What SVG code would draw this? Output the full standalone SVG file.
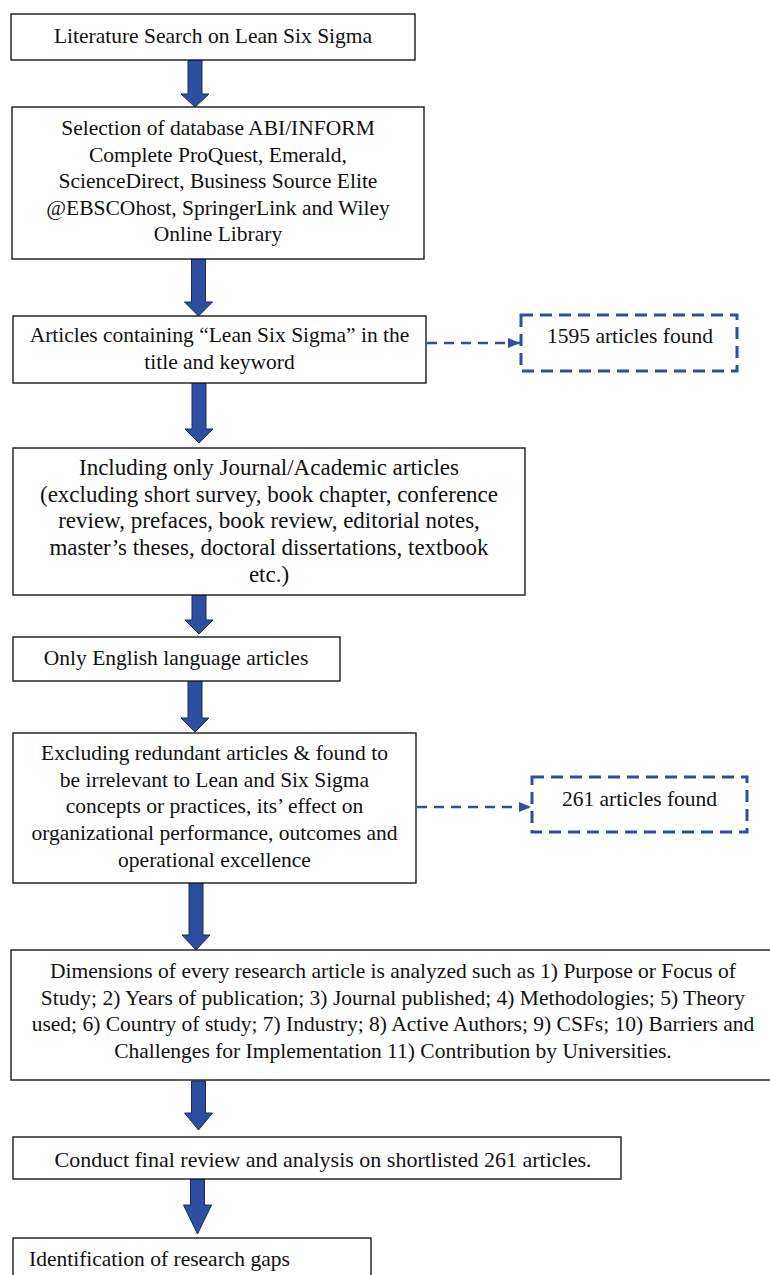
<svg xmlns="http://www.w3.org/2000/svg" width="770" height="1275" viewBox="0 0 770 1275">
<defs>
<style>
.box{fill:#ffffff;stroke:#1a1a1a;stroke-width:1.4}
.dbox{fill:#ffffff;stroke:#2F4FA0;stroke-width:3;stroke-dasharray:12 7}
.t{font-family:"Liberation Serif","Times New Roman",serif;font-size:21.5px;fill:#111111}
.c{text-anchor:middle}
.big{font-size:23px}
.mid{font-size:22px}
.blk{fill:#2E4F9F;stroke:#1B2A58;stroke-width:1}
.dl{fill:none;stroke:#2F4FA0;stroke-width:2.6;stroke-dasharray:10 7}
</style>
<marker id="ah" viewBox="0 0 12 10" refX="12" refY="5" markerWidth="12" markerHeight="10" markerUnits="userSpaceOnUse" orient="auto">
<path d="M0,0 L12,5 L0,10 Z" fill="#2F4FA0"/>
</marker>
</defs>
<rect width="770" height="1275" fill="#ffffff"/>

<g id="connectors">
<path class="blk" d="M188,60 H202 V94 H209 L195,107 L181,94 H188 Z"/>
<path class="blk" d="M191.5,259 H205.5 V302 H212.5 L198.5,316 L184.5,302 H191.5 Z"/>
<path class="blk" d="M192,383 H206 V429 H213 L199,443 L185,429 H192 Z"/>
<path class="blk" d="M192,595 H206 V620 H213 L199,634 L185,620 H192 Z"/>
<path class="blk" d="M188,681 H202 V718 H209 L195,732 L181,718 H188 Z"/>
<path class="blk" d="M189,883 H203 V935 H210 L196,950 L182,935 H189 Z"/>
<path class="blk" d="M191.5,1081 H205.5 V1113 H212.5 L198.5,1130 L184.5,1113 H191.5 Z"/>
<path class="blk" d="M190.5,1179 H204.5 V1205 H211.5 L197.5,1234 L183.5,1205 H190.5 Z"/>
<path class="dl" d="M427,343 H520" marker-end="url(#ah)"/>
<path class="dl" d="M417,807 H531" marker-end="url(#ah)"/>
</g>

<g id="n1">
<rect class="box" x="11" y="14" width="404" height="46"/>
<text class="t c" x="213" y="43">Literature Search on Lean Six Sigma</text>
</g>

<g id="n2">
<rect class="box" x="12" y="107" width="412" height="152"/>
<text class="t c" x="218" y="135">Selection of database ABI/INFORM</text>
<text class="t c" x="218" y="161.5">Complete ProQuest, Emerald,</text>
<text class="t c" x="218" y="188">ScienceDirect, Business Source Elite</text>
<text class="t c" x="218" y="214.5">@EBSCOhost, SpringerLink and Wiley</text>
<text class="t c" x="218" y="241">Online Library</text>
</g>

<g id="n3">
<rect class="box" x="13" y="316" width="413" height="67"/>
<text class="t c" x="219.5" y="342">Articles containing “Lean Six Sigma” in the</text>
<text class="t c" x="219.5" y="369">title and keyword</text>
</g>

<g id="n3b">
<rect class="dbox" x="521" y="315" width="216" height="56"/>
<text class="t c" x="630" y="343">1595 articles found</text>
</g>

<g id="n4">
<rect class="box" x="13" y="448" width="512" height="147"/>
<text class="t c big" x="269" y="475">Including only Journal/Academic articles</text>
<text class="t c big" x="269" y="501.7">(excluding short survey, book chapter, conference</text>
<text class="t c big" x="269" y="528.4">review, prefaces, book review, editorial notes,</text>
<text class="t c big" x="269" y="555.1">master’s theses, doctoral dissertations, textbook</text>
<text class="t c big" x="269" y="581.8">etc.)</text>
</g>

<g id="n5">
<rect class="box" x="13" y="637" width="327" height="44"/>
<text class="t c" x="176" y="665">Only English language articles</text>
</g>

<g id="n6">
<rect class="box" x="13" y="733" width="403" height="150"/>
<text class="t c" x="214.5" y="760">Excluding redundant articles &amp; found to</text>
<text class="t c" x="214.5" y="786.7">be irrelevant to Lean and Six Sigma</text>
<text class="t c" x="214.5" y="813.4">concepts or practices, its’ effect on</text>
<text class="t c" x="214.5" y="840.1">organizational performance, outcomes and</text>
<text class="t c" x="214.5" y="866.8">operational excellence</text>
</g>

<g id="n6b">
<rect class="dbox" x="532" y="777" width="215" height="55"/>
<text class="t c" x="639.5" y="806">261 articles found</text>
</g>

<g id="n7">
<rect class="box" x="11" y="950" width="766" height="130"/>
<text class="t c" x="393" y="978">Dimensions of every research article is analyzed such as 1) Purpose or Focus of</text>
<text class="t c" x="393" y="1004.7">Study; 2) Years of publication; 3) Journal published; 4) Methodologies; 5) Theory</text>
<text class="t c" x="393" y="1031.4">used; 6) Country of study; 7) Industry; 8) Active Authors; 9) CSFs; 10) Barriers and</text>
<text class="t c" x="393" y="1058">Challenges for Implementation 11) Contribution by Universities.</text>
</g>

<g id="n8">
<rect class="box" x="13" y="1137" width="608" height="42"/>
<text class="t c mid" x="323" y="1167">Conduct final review and analysis on shortlisted 261 articles.</text>
</g>

<g id="n9">
<rect class="box" x="13" y="1238" width="358" height="60"/>
<text class="t" x="29" y="1266">Identification of research gaps</text>
</g>
</svg>
